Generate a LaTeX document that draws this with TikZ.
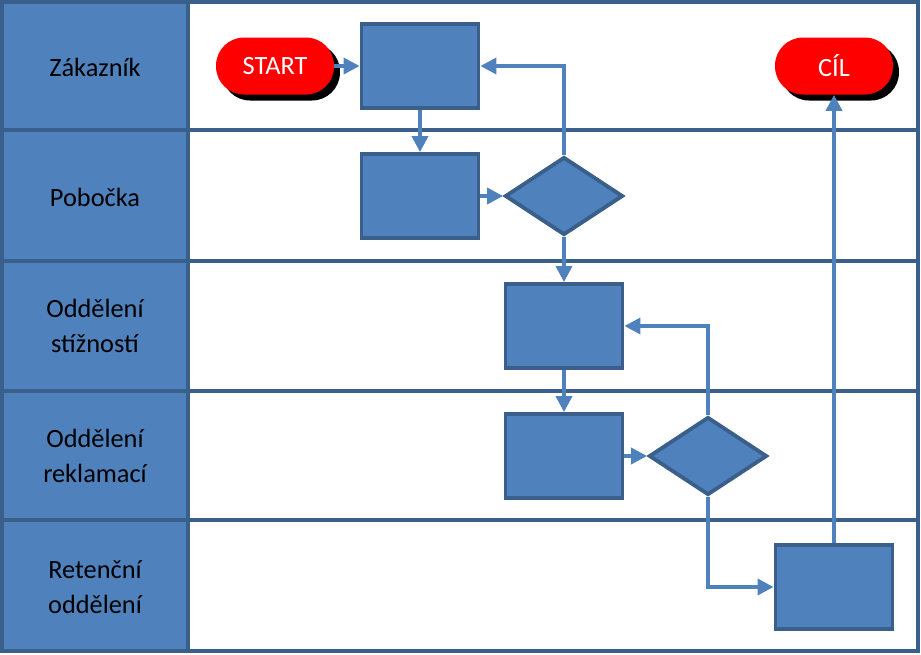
\documentclass[tikz,border=0pt]{standalone}
\usepackage{fontspec}
\setmainfont{Carlito}
\usetikzlibrary{arrows.meta,shapes.geometric,shadows}
\definecolor{laneblue}{HTML}{4F81BD}
\definecolor{edgeblue}{HTML}{3A5F8B}

\begin{document}
\begin{tikzpicture}[
  x=0.02cm, y=-0.02cm,
  lbl/.style={font=\fontsize{15}{20}\selectfont, align=center},
  task/.style={draw=edgeblue, fill=laneblue, line width=2.2pt, minimum width=2.34cm, minimum height=1.68cm, inner sep=0pt},
  decide/.style={diamond, draw=edgeblue, fill=laneblue, line width=2.2pt, minimum width=2.36cm, minimum height=1.56cm, inner sep=0pt},
  term/.style={lbl, fill=red, text=white, rounded corners=0.56cm, minimum width=2.36cm, minimum height=1.14cm,
    drop shadow={shadow xshift=0.12cm, shadow yshift=-0.12cm, opacity=1, fill=black}},
  arr/.style={-{Triangle[length=0.32cm, width=0.32cm]}, draw=laneblue, line width=2pt}
]
  \useasboundingbox (0,0) rectangle (921,654);

  % Swimlane frame
  \fill[laneblue] (2,2) rectangle (188,651);
  \draw[edgeblue, line width=2.4pt] (2,2) rectangle (918,651);
  \draw[edgeblue, line width=2.4pt] (188,2) -- (188,651);
  \foreach \y in {130, 261, 391, 520}
    \draw[edgeblue, line width=2.4pt] (2,\y) -- (918,\y);

  % Lane names
  \foreach \y/\t [count=\i] in {67/Zákazník, 197/Pobočka, 326/{Oddělení\\stížností},
      456/{Oddělení\\reklamací}, 587/{Retenční\\oddělení}}
    \node[lbl] (lane\i) at (95,\y) {\t};

  % Start and end
  \node[term] (start) at (275,66) {START};
  \node[term] (cil) at (834,66) {CÍL};

  % Steps and decisions
  \node[task] (zak) at (420,66) {};
  \node[task] (pob) at (420,196) {};
  \node[decide] (dec1) at (564,196) {};
  \node[task] (stiz) at (564,326) {};
  \node[task] (rekl) at (564,456) {};
  \node[decide] (dec2) at (708,456) {};
  \node[task] (ret) at (834,587) {};

  % Flow
  \draw[arr] (start) -- (zak);
  \draw[arr] (zak) -- (pob);
  \draw[arr] (pob) -- (dec1);
  \draw[arr] (dec1.north) |- (zak.east);
  \draw[arr] (dec1) -- (stiz);
  \draw[arr] (stiz) -- (rekl);
  \draw[arr] (rekl) -- (dec2);
  \draw[arr] (dec2.north) |- (stiz.east);
  \draw[arr] (dec2.south) |- (ret.west);
  \draw[arr] (ret) -- (cil);
\end{tikzpicture}
\end{document}
